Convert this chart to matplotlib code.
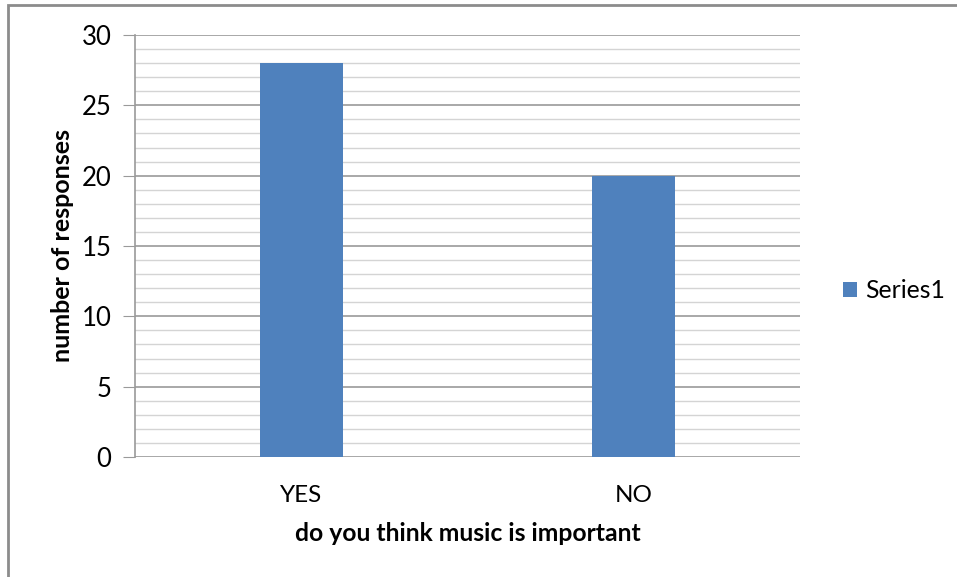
import matplotlib
matplotlib.use("Agg")
import matplotlib.pyplot as plt
import matplotlib.patches as patches
from matplotlib.ticker import MultipleLocator

categories = ["YES", "NO"]
responses = [28, 20]
series_name = "Series1"

BAR = "#4F81BD"
MAJOR = "#9a9a9a"
MINOR = "#d4d4d4"

plt.rcParams["font.family"] = ["Lato", "DejaVu Sans"]

W, H = 957, 577
fig = plt.figure(figsize=(W / 100, H / 100), dpi=100)
ax = fig.add_axes([135 / W, 1 - 457 / H, 665 / W, 422 / H])

x = range(len(categories))
ax.bar(x, responses, width=0.25, color=BAR, zorder=3, label=series_name)
ax.set_xlim(-0.5, len(categories) - 0.5)
ax.set_ylim(0, 30)
ax.set_xticks(list(x))
ax.set_xticklabels(categories, fontsize=17.5)
ax.yaxis.set_major_locator(MultipleLocator(5))
ax.yaxis.set_minor_locator(MultipleLocator(1))
ax.tick_params(axis="y", which="major", length=9, color=MAJOR, labelsize=18.5, pad=8)
ax.tick_params(axis="y", which="minor", length=0)
ax.tick_params(axis="x", length=0, pad=20)
ax.grid(axis="y", which="major", color=MAJOR, linewidth=1.2, zorder=0)
ax.grid(axis="y", which="minor", color=MINOR, linewidth=1.0, zorder=0)
ax.set_axisbelow(True)
for sp in ["top", "right", "bottom"]:
    ax.spines[sp].set_visible(False)
ax.spines["left"].set_color(MAJOR)
ax.spines["left"].set_linewidth(1.2)

ax.set_xlabel("do you think music is important", fontsize=17.8, weight="bold", labelpad=12)
ax.set_ylabel("number of responses", fontsize=18, weight="bold", labelpad=5)

fig.legend(loc="center left", bbox_to_anchor=(843 / W, 1 - 291 / H), frameon=False,
           fontsize=17.8, handlelength=0.55, handleheight=0.55, handletextpad=0.35,
           borderpad=0, borderaxespad=0)

# outer chart border (left and top edges visible)
fig.add_artist(patches.Rectangle((8 / W, -0.1), 1.2, 1 - 5 / H + 0.1,
                                 transform=fig.transFigure, fill=False,
                                 edgecolor="#8c8c8c", linewidth=2))

fig.savefig("out.png", dpi=100)
